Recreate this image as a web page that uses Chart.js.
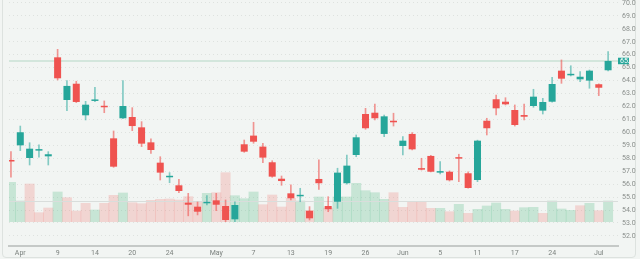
<!DOCTYPE html>
<html>
<head>
<meta charset="utf-8">
<script src="https://cdn.jsdelivr.net/npm/chart.js@4.4.1/dist/chart.umd.min.js"></script>
<style>
  html, body { margin: 0; padding: 0; background: #f2f5f3; }
  #wrap { position: relative; width: 640px; height: 259px; overflow: hidden; }
  #frame { position: absolute; left: 2px; top: -4px; width: 632px; height: 260px;
           border: 1px solid #dde2df; border-radius: 4px; }
  canvas { position: absolute; left: 0; top: 0; }
</style>
</head>
<body>
<div id="wrap">
  <div id="frame"></div>
  <canvas id="chart" width="640" height="259"></canvas>
</div>
<script>
// Daily OHLC + volume
const opens  = [57.87, 59.00, 58.02, 58.59, 58.15, 65.80, 62.50, 63.76, 61.32, 62.43,
                62.04, 59.54, 61.09, 61.19, 60.39, 59.23, 57.66, 56.53, 55.91, 54.57,
                54.26, 54.52, 54.75, 54.31, 53.28, 59.08, 59.75, 58.90, 57.69, 56.42,
                55.29, 55.06, 53.95, 56.40, 54.31, 54.64, 56.07, 58.25, 61.42, 61.52,
                59.88, 60.90, 58.95, 59.88, 57.23, 58.18, 56.89, 56.96, 58.05, 56.84,
                56.32, 60.90, 62.56, 62.37, 61.73, 61.34, 62.04, 61.68, 62.37, 64.77,
                64.41, 64.10, 64.00, 63.72, 64.80];
const highs  = [58.51, 60.49, 59.20, 59.03, 58.51, 66.42, 64.00, 63.95, 62.40, 63.49,
                62.43, 60.11, 64.00, 61.91, 60.83, 59.51, 58.12, 56.89, 56.38, 55.29,
                54.62, 55.11, 55.29, 54.78, 54.64, 59.41, 60.78, 59.16, 57.81, 56.63,
                55.94, 55.68, 54.26, 57.87, 55.03, 57.23, 58.25, 59.80, 61.86, 62.19,
                61.34, 61.48, 59.67, 59.98, 58.00, 58.22, 57.74, 57.02, 58.31, 56.96,
                59.40, 61.09, 62.89, 62.68, 62.12, 62.19, 63.33, 62.63, 64.26, 65.60,
                65.15, 64.69, 64.82, 63.75, 66.24];
const lows   = [56.53, 58.59, 57.48, 58.08, 57.48, 64.05, 61.68, 62.30, 60.96, 62.37,
                61.52, 57.30, 61.06, 60.13, 58.90, 58.38, 56.32, 56.11, 55.34, 53.55,
                53.62, 54.39, 53.95, 53.10, 53.10, 58.46, 59.16, 57.66, 56.53, 55.91,
                54.78, 54.64, 53.23, 55.60, 53.87, 54.13, 56.00, 58.12, 60.24, 60.96,
                59.67, 60.49, 58.25, 58.65, 57.09, 56.94, 56.79, 56.24, 56.19, 55.68,
                56.19, 59.80, 61.34, 62.12, 60.49, 60.96, 61.94, 61.42, 62.33, 63.79,
                64.36, 63.92, 63.41, 62.84, 64.75];
const closes = [57.75, 60.01, 58.74, 58.69, 58.31, 64.18, 63.59, 62.35, 62.14, 62.53,
                61.94, 57.35, 62.04, 60.49, 59.13, 58.64, 56.89, 56.63, 55.47, 54.41,
                53.87, 54.62, 54.41, 53.23, 54.39, 58.51, 59.28, 58.05, 56.58, 56.24,
                54.91, 55.16, 53.36, 56.07, 54.06, 56.89, 57.43, 59.62, 60.32, 61.09,
                61.24, 60.78, 59.36, 58.69, 57.12, 56.96, 56.98, 56.30, 57.97, 55.70,
                59.36, 60.32, 61.86, 62.17, 60.57, 61.21, 62.76, 62.35, 63.74, 64.15,
                64.51, 64.30, 64.77, 63.45, 65.52];
// volume in thousands
const volumes = [1970, 1035, 1885, 450, 685, 1485, 1200, 535, 920, 585,
                 920, 1320, 1435, 950, 900, 1070, 1120, 1135, 1085, 1250,
                 1000, 1420, 1450, 2450, 1300, 1150, 1485, 850, 1335, 735,
                 1170, 1035, 535, 1235, 685, 1235, 1235, 1920, 1550, 1450,
                 1120, 1450, 720, 1000, 1000, 670, 670, 500, 870, 420,
                 620, 785, 935, 620, 535, 700, 720, 420, 1035, 635,
                 570, 800, 920, 550, 1035];
const volAvg = 1035;

// x axis tick labels and the candle they sit under
const tickIdx    = [1, 5, 9, 13, 17, 22, 26, 30, 34, 38, 42, 46, 50, 54, 58, 63];
const tickLabels = ['Apr', '9', '14', '20', '24', 'May', '7', '13', '19', '26',
                    'Jun', '5', '11', '17', '24', 'Jul'];

const UP = '#26a69a', DOWN = '#ef5350';
const UP_WICK = 'rgba(38,166,154,0.55)', DOWN_WICK = 'rgba(239,83,80,0.6)';
const UP_VOL = 'rgba(45,175,110,0.22)', DOWN_VOL = 'rgba(239,83,80,0.2)';
const FONT = { family: 'Roboto', size: 7 };

const isUp = closes.map((c, i) => c >= opens[i]);
const volUp = closes.map((c, i) => i === 0 || c >= closes[i - 1]);
const lastClose = closes[closes.length - 1];

const noPad = axis => {
    axis.paddingTop = 0;
    axis.paddingBottom = 0;
    axis.paddingLeft = 0;
    axis.paddingRight = 0;
};

const overlay = {
    id: 'overlay',
    beforeDatasetsDraw(chart) {
        const { ctx, chartArea: a, scales: { y } } = chart;
        const py = y.getPixelForValue(lastClose);
        ctx.save();
        ctx.strokeStyle = '#c9e0d5';
        ctx.lineWidth = 1.5;
        ctx.beginPath();
        ctx.moveTo(a.left, py);
        ctx.lineTo(a.right, py);
        ctx.stroke();
        ctx.restore();
    },
    afterDatasetDraw(chart, args) {
        if (args.index !== 2) return;
        const { ctx, chartArea: a, scales: { yv } } = chart;
        const py = Math.round(yv.getPixelForValue(volAvg)) + 0.5;
        ctx.save();
        ctx.strokeStyle = '#d9dddb';
        ctx.lineWidth = 1;
        ctx.beginPath();
        ctx.moveTo(a.left, py);
        ctx.lineTo(a.right, py);
        ctx.stroke();
        ctx.restore();
    },
    afterDraw(chart) {
        // last price tag on the price axis
        const { ctx, chartArea: a, scales: { y } } = chart;
        const py = y.getPixelForValue(lastClose);
        ctx.save();
        ctx.beginPath();
        ctx.rect(a.right, py - 3.5, 11, 7);
        ctx.clip();
        ctx.fillStyle = UP;
        ctx.fillRect(a.right, py - 3.5, 11, 7);
        ctx.fillStyle = '#ffffff';
        ctx.font = '7px Roboto';
        ctx.textBaseline = 'middle';
        ctx.fillText(lastClose.toFixed(1), a.right + 2, py + 0.5);
        ctx.restore();
    }
};

new Chart(document.getElementById('chart'), {
    type: 'bar',
    data: {
        datasets: [{
            label: 'wick',
            data: highs.map((h, i) => ({ x: i, y: [lows[i], h] })),
            backgroundColor: isUp.map(u => u ? UP_WICK : DOWN_WICK),
            barThickness: 1,
            grouped: false,
            order: 2
        }, {
            label: 'body',
            data: opens.map((o, i) => ({ x: i, y: [Math.min(o, closes[i]), Math.max(o, closes[i])] })),
            backgroundColor: isUp.map(u => u ? UP : DOWN),
            barPercentage: 0.75,
            categoryPercentage: 1,
            minBarLength: 1.5,
            grouped: false,
            order: 1
        }, {
            label: 'volume',
            yAxisID: 'yv',
            data: volumes.map((v, i) => ({ x: i, y: v })),
            backgroundColor: volUp.map(u => u ? UP_VOL : DOWN_VOL),
            barPercentage: 1,
            categoryPercentage: 1,
            grouped: false,
            order: 3
        }]
    },
    options: {
        responsive: false,
        animation: false,
        layout: { padding: { left: 9, right: 0, top: 0, bottom: 0 } },
        plugins: { legend: { display: false }, tooltip: { enabled: false } },
        scales: {
            x: {
                type: 'linear',
                min: -0.21,
                max: 65.06,
                offset: false,
                grid: { display: false, offset: false, drawTicks: false },
                border: { color: '#c5c9c7', width: 2 },
                ticks: {
                    autoSkip: false,
                    maxRotation: 0,
                    padding: 3,
                    font: FONT,
                    color: '#7c827f',
                    callback: v => tickLabels[tickIdx.indexOf(v)]
                },
                afterBuildTicks: axis => { axis.ticks = tickIdx.map(v => ({ value: v })); },
                afterFit: axis => { axis.height = 13; noPad(axis); }
            },
            y: {
                position: 'right',
                min: 51.22,
                max: 70.23,
                grid: { color: 'rgba(150,160,155,0.22)', drawTicks: false },
                border: { display: false, dash: [1, 3] },
                ticks: {
                    stepSize: 1,
                    includeBounds: false,
                    padding: 4,
                    font: FONT,
                    color: '#8a8f8c',
                    callback: v => v.toFixed(1)
                },
                afterBuildTicks: axis => {
                    axis.ticks = axis.ticks.filter(t => t.value >= axis.min && t.value <= axis.max);
                },
                afterFit: axis => { axis.width = 22; noPad(axis); }
            },
            yv: {
                display: false,
                min: -1215,
                max: 11085
            }
        }
    },
    plugins: [overlay]
});
</script>
</body>
</html>
